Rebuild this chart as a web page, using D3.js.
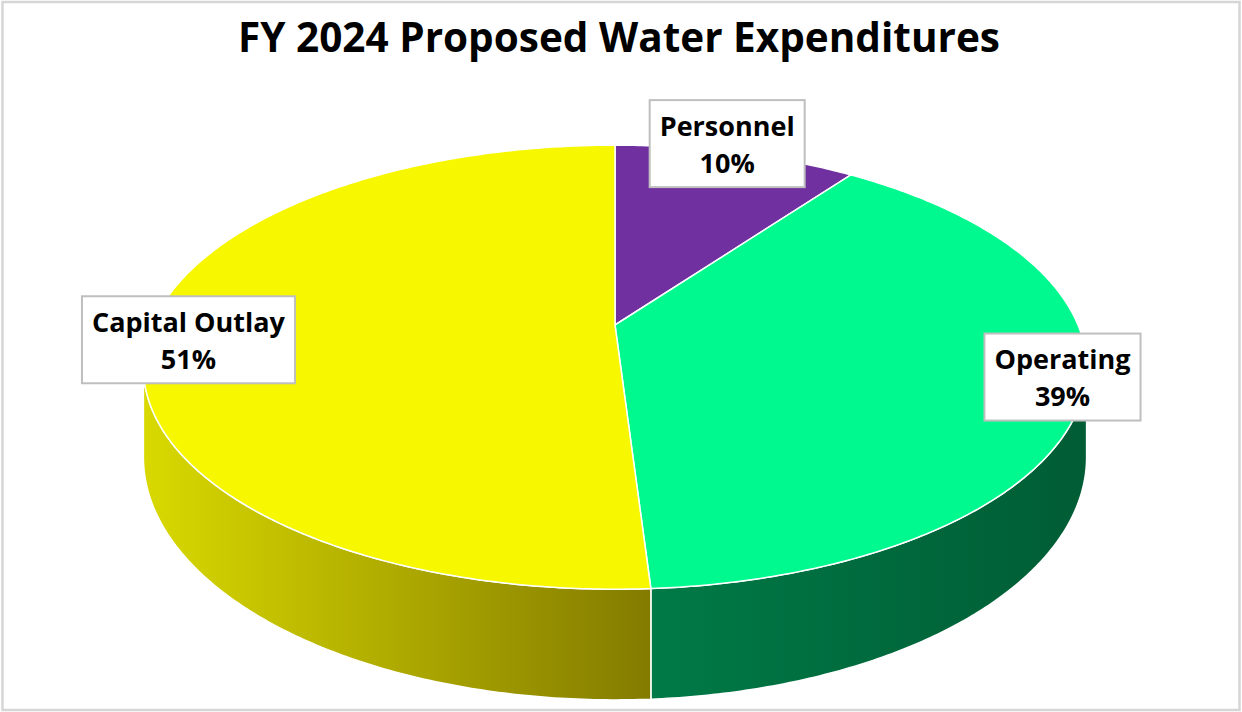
<!DOCTYPE html>
<html>
<head>
<meta charset="utf-8">
<script src="https://cdn.jsdelivr.net/npm/d3@7"></script>
<style>
  body { margin: 0; background: #fff; }
  text { font-family: "Open Sans", "Noto Sans", sans-serif; font-weight: 700; fill: #000; }
</style>
</head>
<body>
<svg id="chart" width="1242" height="712"></svg>
<script>
// chart data
const chartTitle = "FY 2024 Proposed Water Expenditures";
const categories = ["Personnel", "Operating", "Capital Outlay"];
const shares = [10, 39, 51];

// colours: top face, side (left edge -> right edge on screen)
const topColors = ["#7030A0", "#00F98F", "#F7F700"];
const sideColors = [["#4E1F70", "#3C1758"], ["#007A47", "#005C34"], ["#D9D900", "#837B00"]];

const width = 1242, height = 712;
const svg = d3.select("#chart");

// frame
svg.append("rect")
  .attr("x", 2.5).attr("y", 2)
  .attr("width", 1237).attr("height", 708)
  .attr("fill", "#fff")
  .attr("stroke", "#d6d6d6")
  .attr("stroke-width", 2.5);

// title
svg.append("text")
  .attr("x", 619).attr("y", 52)
  .attr("text-anchor", "middle")
  .style("font-size", "40.5px")
  .text(chartTitle);

// 3d pie projection (perspective tilt)
const cx = 615, apexY = 325, rx = 463, ry = 214, k = 0.19;
const baseY = 411, ryBase = 234;

function rim(theta, bottom) {
  const u = Math.sin(theta), v = Math.cos(theta), w = 1 + k * v;
  return [cx + rx * u / w, bottom ? baseY - ryBase * v / w : apexY - ry * v / w];
}

function sample(a0, a1) {
  const n = Math.max(2, Math.ceil(Math.abs(a1 - a0) / 0.01));
  return d3.range(n + 1).map(i => a0 + (a1 - a0) * i / n);
}

const pie = d3.pie().sort(null).value(d => d.value);
const arcs = pie(categories.map((c, i) => ({ name: c, value: shares[i], i })));

const line = d3.line();
const defs = svg.append("defs");

// sides (front half only)
const silA = Math.acos(-k), silB = 2 * Math.PI - silA;

arcs.forEach(a => {
  const s = Math.max(a.startAngle, silA), e = Math.min(a.endAngle, silB);
  if (e <= s) return;
  const i = a.data.i;
  const x0 = rim(s)[0], x1 = rim(e)[0];
  const g = defs.append("linearGradient")
    .attr("id", "side" + i)
    .attr("gradientUnits", "userSpaceOnUse")
    .attr("x1", Math.min(x0, x1)).attr("x2", Math.max(x0, x1))
    .attr("y1", 0).attr("y2", 0);
  g.append("stop").attr("offset", 0).attr("stop-color", sideColors[i][0]);
  g.append("stop").attr("offset", 1).attr("stop-color", sideColors[i][1]);

  const angs = sample(s, e);
  const pts = angs.map(t => rim(t, false)).concat(angs.slice().reverse().map(t => rim(t, true)));
  svg.append("path")
    .attr("d", line(pts) + "Z")
    .attr("fill", `url(#side${i})`)
    .attr("stroke", "#fff")
    .attr("stroke-width", 1.5)
    .attr("stroke-linejoin", "round");
});

// top faces
arcs.forEach(a => {
  const pts = [[cx, apexY]].concat(sample(a.startAngle, a.endAngle).map(t => rim(t, false)));
  svg.append("path")
    .attr("d", line(pts) + "Z")
    .attr("fill", topColors[a.data.i])
    .attr("stroke", "#fff")
    .attr("stroke-width", 1.5)
    .attr("stroke-linejoin", "round");
});

// data labels, placed near the rim at the mid angle
const labelNudge = [[-9, -9], [-22, -11], [39, 8]];

arcs.forEach(a => {
  const i = a.data.i;
  const mid = (a.startAngle + a.endAngle) / 2;
  const p = rim(mid, false);
  const lx = p[0] + labelNudge[i][0], ly = p[1] + labelNudge[i][1];
  const g = svg.append("g").attr("transform", `translate(${lx},${ly})`);
  const box = g.append("rect");
  const t1 = g.append("text").attr("text-anchor", "middle").attr("y", -8)
    .style("font-size", "27px").text(a.data.name);
  g.append("text").attr("text-anchor", "middle").attr("y", 29)
    .style("font-size", "27px").text(a.data.value + "%");
  const w = t1.node().getComputedTextLength() + 20, h = 87;
  box.attr("x", -w / 2).attr("y", -h / 2)
    .attr("width", w).attr("height", h)
    .attr("fill", "#fff")
    .attr("stroke", "#bfbfbf")
    .attr("stroke-width", 2);
});
</script>
</body>
</html>
